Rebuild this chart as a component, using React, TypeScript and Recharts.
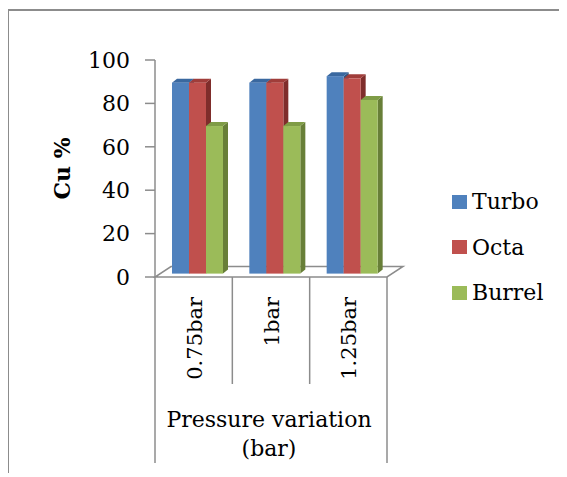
import React from 'react';
import { BarChart, Bar, XAxis, YAxis, Legend, ReferenceArea } from 'recharts';

// values
const categories = ['0.75bar', '1bar', '1.25bar'];
const turbo = [88, 88, 91];
const octa = [88, 88, 90];
const burrel = [68, 68, 80];
const yTicks = [0, 20, 40, 60, 80, 100];
const seriesNames = ['Turbo', 'Octa', 'Burrel'];
const seriesKeys = ['turbo', 'octa', 'burrel'];
const xTitle = ['Pressure variation', '(bar)'];
const yTitle = 'Cu %';

const data = categories.map((name, i) => ({
  name,
  turbo: turbo[i],
  octa: octa[i],
  burrel: burrel[i],
}));

// front / top / side colours of the 3D columns
const palette = [
  { front: '#4f81bd', top: '#3a689f', side: '#2f5580' },
  { front: '#c0504d', top: '#a03d3a', side: '#7f2d2b' },
  { front: '#9bbb59', top: '#7f9c46', side: '#687f38' },
];

const FONT = "'DejaVu Serif', serif";
const GRAY = '#8c8c8c';

const CHART_W = 549;
const CHART_H = 463;
const MARGIN = { top: 49, right: 171, left: 0, bottom: 7 };
const Y_AXIS_W = 146;
const X_AXIS_H = 190;
const PLOT_W = CHART_W - MARGIN.left - MARGIN.right - Y_AXIS_W;
const BAND = PLOT_W / categories.length;

// 3D offsets
const BAR_SHIFT = { x: 4, y: -3.4 };
const BAR_DEPTH = { x: 5, y: -4 };
const FLOOR_DEPTH = { x: 16, y: -10.5 };

function makeColumn(c: { front: string; top: string; side: string }) {
  return (props: any) => {
    const { width, height } = props;
    if (!height || height <= 0) return null;
    const x = props.x + BAR_SHIFT.x;
    const y = props.y + BAR_SHIFT.y;
    const dx = BAR_DEPTH.x;
    const dy = BAR_DEPTH.y;
    const top = `${x},${y} ${x + dx},${y + dy} ${x + width + dx},${y + dy} ${x + width},${y}`;
    const side = `${x + width},${y} ${x + width + dx},${y + dy} ${x + width + dx},${y + height + dy} ${x + width},${y + height}`;
    return (
      <g>
        <polygon points={side} fill={c.side} />
        <polygon points={top} fill={c.top} />
        <rect x={x} y={y} width={width} height={height} fill={c.front} />
      </g>
    );
  };
}

function Floor(props: any) {
  const { x, y, width, height } = props;
  const base = y + height;
  const pts = `${x},${base} ${x + width},${base} ${x + width + FLOOR_DEPTH.x},${base + FLOOR_DEPTH.y} ${x + FLOOR_DEPTH.x},${base + FLOOR_DEPTH.y}`;
  return <polygon points={pts} fill="none" stroke={GRAY} strokeWidth={1.5} />;
}

function CategoryTick(props: any) {
  const { x, y, payload } = props;
  const i = payload.index ?? props.index ?? 0;
  const half = BAND / 2;
  const last = categories.length - 1;
  const outer = 186;
  const inner = 107;
  return (
    <g>
      <line x1={x - half} x2={x - half} y1={y} y2={y + (i === 0 ? outer : inner)} stroke={GRAY} strokeWidth={1.5} />
      {i === last && (
        <line x1={x + half} x2={x + half} y1={y} y2={y + outer} stroke={GRAY} strokeWidth={1.5} />
      )}
      <text
        transform={`translate(${x + 8},${y + 20}) rotate(-90)`}
        textAnchor="end"
        fontFamily={FONT}
        fontSize={21}
        fill="#000"
      >
        {payload.value}
      </text>
      {i === 1 && (
        <text x={x - 2} y={y + 150} textAnchor="middle" fontFamily={FONT} fontSize={22} fill="#000">
          {xTitle[0]}
        </text>
      )}
      {i === 1 && (
        <text x={x - 2} y={y + 179} textAnchor="middle" fontFamily={FONT} fontSize={22} fill="#000">
          {xTitle[1]}
        </text>
      )}
    </g>
  );
}

function YTitle(props: any) {
  const vb = props.viewBox || {};
  const cx = (vb.x ?? 0) + 53;
  const cy = (vb.y ?? 0) + (vb.height ?? 0) / 2;
  return (
    <text
      transform={`translate(${cx},${cy}) rotate(-90)`}
      textAnchor="middle"
      dominantBaseline="central"
      fontFamily={FONT}
      fontSize={22}
      fontWeight="bold"
      fill="#000"
    >
      {yTitle}
    </text>
  );
}

function LegendBox() {
  return (
    <div style={{ fontFamily: FONT, fontSize: 22, color: '#000' }}>
      {seriesNames.map((name, i) => (
        <div key={name} style={{ display: 'flex', alignItems: 'center', height: 45.5 }}>
          <span style={{ width: 15, height: 14, background: palette[i].front, marginRight: 5, display: 'inline-block' }} />
          <span>{name}</span>
        </div>
      ))}
    </div>
  );
}

export default function App() {
  return (
    <div
      style={{
        position: 'relative',
        top: 1,
        left: -1,
        width: 559,
        height: 465,
        boxSizing: 'border-box',
        borderTop: `2px solid ${GRAY}`,
        borderLeft: `2px solid ${GRAY}`,
        background: '#fff',
      }}
    >
      <BarChart
        width={CHART_W}
        height={CHART_H}
        data={data}
        margin={MARGIN}
        barSize={17}
        barGap={0}
        style={{ position: 'absolute', left: 0, top: 0 }}
      >
        <ReferenceArea y1={0} y2={1} shape={<Floor />} />
        <XAxis
          dataKey="name"
          height={X_AXIS_H}
          axisLine={false}
          tickLine={false}
          tickSize={0}
          tickMargin={0}
          interval={0}
          tick={<CategoryTick />}
        />
        <YAxis
          domain={[0, 100]}
          ticks={yTicks}
          interval={0}
          width={Y_AXIS_W}
          tickSize={10}
          tickMargin={15}
          axisLine={{ stroke: GRAY, strokeWidth: 1.5 }}
          tickLine={{ stroke: GRAY, strokeWidth: 1.5 }}
          tick={{ fontFamily: FONT, fontSize: 22, fill: '#000' }}
          label={{ content: <YTitle /> }}
        />
        <Legend
          layout="vertical"
          align="center"
          verticalAlign="middle"
          wrapperStyle={{ left: 443, top: 168, width: 'auto', height: 'auto' }}
          content={<LegendBox />}
        />
        {seriesKeys.map((k, i) => (
          <Bar key={k} dataKey={k} name={seriesNames[i]} fill={palette[i].front} shape={makeColumn(palette[i])} isAnimationActive={false} />
        ))}
      </BarChart>
    </div>
  );
}
